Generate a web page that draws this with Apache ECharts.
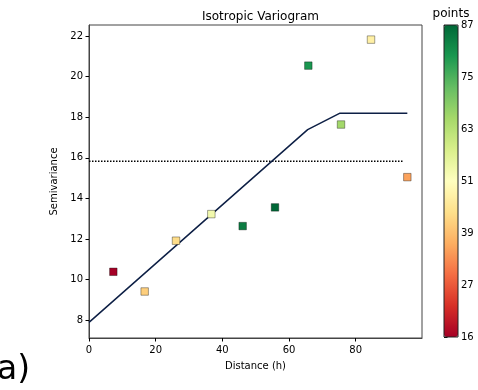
<!DOCTYPE html>
<html>
<head>
<meta charset="utf-8">
<script src="https://cdn.jsdelivr.net/npm/echarts@6/dist/echarts.min.js"></script>
<style>
  html, body { margin: 0; padding: 0; background: #fff; }
  #chart { width: 478px; height: 390px; }
</style>
</head>
<body>
<div id="chart"></div>
<script>
// Experimental semivariance per lag and the number of point pairs in each lag
const lagDistance = [7.3, 16.7, 26.1, 36.7, 46.1, 55.8, 65.8, 75.6, 84.6, 95.5];
const semivariance = [10.39, 9.42, 11.92, 13.23, 12.64, 13.56, 20.54, 17.64, 21.82, 15.05];
const pairCount = [16, 42, 44, 54, 84, 87, 80, 66, 48, 36];

// Fitted model (vertices) and sill
const modelDistance = [0, 65.6, 75.3, 95.5];
const modelValue = [7.9, 17.39, 18.2, 18.2];
const sillValue = 15.83;
const sillExtent = [0, 94.5];

// Axis ticks
const xTicks = [0, 20, 40, 60, 80];
const yTicks = [8, 10, 12, 14, 16, 18, 20, 22];
const countMin = 16, countMax = 87;
const countTicks = [0, 1, 2, 3, 4, 5, 6].map(k => countMin + k * (countMax - countMin) / 6);

// RdYlGn colour ramp, low to high
const rdYlGn = ['#a50026', '#d73027', '#f46d43', '#fdae61', '#fee08b', '#ffffbf',
                '#d9ef8b', '#a6d96a', '#66bd63', '#1a9850', '#006837'];

const FONT = 'DejaVu Sans';
const plot = { left: 89, top: 25, width: 333, height: 313 };
const bar = { left: 444, top: 25, width: 14, height: 312 };

const chart = echarts.init(document.getElementById('chart'));
chart.setOption({
  animation: false,
  backgroundColor: '#fff',
  textStyle: { fontFamily: FONT },
  title: {
    text: 'Isotropic Variogram',
    left: plot.left + plot.width / 2, top: 6, textAlign: 'center',
    textStyle: { fontFamily: FONT, fontSize: 12, fontWeight: 'normal', color: '#000' }
  },
  grid: [
    { left: plot.left, top: plot.top, width: plot.width, height: plot.height,
      show: true, borderColor: '#444', borderWidth: 1, backgroundColor: 'transparent' },
    { left: bar.left, top: bar.top, width: bar.width, height: bar.height,
      show: false }
  ],
  xAxis: [
    {
      gridIndex: 0, type: 'value', min: 0, max: 99.9,
      name: 'Distance (h)', nameLocation: 'middle', nameGap: 23,
      nameTextStyle: { fontFamily: FONT, fontSize: 10, color: '#000' },
      axisLine: { show: true, onZero: false, lineStyle: { color: '#444', width: 1 } },
      axisTick: { show: true, length: 3.5, customValues: xTicks, lineStyle: { color: '#000' } },
      axisLabel: { customValues: xTicks, margin: 7, fontFamily: FONT, fontSize: 10, color: '#000' },
      splitLine: { show: false }
    },
    { gridIndex: 1, type: 'value', min: 0, max: 1, show: false }
  ],
  yAxis: [
    {
      gridIndex: 0, type: 'value', min: 7.13, max: 22.54,
      name: 'Semivariance', nameLocation: 'middle', nameGap: 22, nameRotate: 90,
      nameTextStyle: { fontFamily: FONT, fontSize: 10, color: '#000' },
      axisLine: { show: true, onZero: false, lineStyle: { color: '#444', width: 1 } },
      axisTick: { show: true, length: 3.5, customValues: yTicks, lineStyle: { color: '#000' } },
      axisLabel: { customValues: yTicks, margin: 6, fontFamily: FONT, fontSize: 10, color: '#000' },
      splitLine: { show: false }
    },
    {
      gridIndex: 1, type: 'value', min: countMin, max: countMax, position: 'right',
      axisLine: { show: false },
      axisTick: { show: true, length: 3.5, customValues: countTicks, lineStyle: { color: '#000' } },
      axisLabel: { customValues: countTicks, margin: 3, fontFamily: FONT, fontSize: 10, color: '#000',
                   formatter: v => String(Math.floor(v + 1e-6)) },
      splitLine: { show: false }
    }
  ],
  visualMap: {
    type: 'continuous', min: countMin, max: countMax, dimension: 2, seriesIndex: 0,
    orient: 'vertical', left: bar.left, top: bar.top, padding: 0,
    itemWidth: bar.width, itemHeight: bar.height,
    calculable: false, hoverLink: false, text: null, showLabel: false,
    inRange: { color: rdYlGn },
    borderWidth: 0
  },
  graphic: [
    { type: 'rect', z: 100, silent: true,
      shape: { x: bar.left, y: bar.top, width: bar.width, height: bar.height },
      style: { fill: 'none', stroke: '#222', lineWidth: 1 } },
    { type: 'text', z: 100, silent: true, x: bar.left + bar.width / 2, y: 14,
      style: { text: 'points', fontFamily: FONT, fontSize: 12, fill: '#000',
               align: 'center', verticalAlign: 'middle' } },
    { type: 'text', left: -3, top: 354, silent: true,
      style: { text: 'a)', fontFamily: FONT, fontSize: 33, fill: '#000' } }
  ],
  series: [
    {
      type: 'scatter', xAxisIndex: 0, yAxisIndex: 0, z: 5,
      symbol: 'rect', symbolSize: 7.5,
      itemStyle: { opacity: 1, borderColor: 'rgba(0,0,0,0.4)', borderWidth: 0.9 },
      data: lagDistance.map((d, i) => [d, semivariance[i], pairCount[i]])
    },
    {
      type: 'line', xAxisIndex: 0, yAxisIndex: 0, z: 4,
      symbol: 'none', lineStyle: { color: '#0d1f45', width: 1.5 },
      data: modelDistance.map((d, i) => [d, modelValue[i]])
    },
    {
      type: 'line', xAxisIndex: 0, yAxisIndex: 0, z: 3,
      symbol: 'none', lineStyle: { color: '#000', width: 1.5, type: [1.5, 1.5] },
      data: sillExtent.map(d => [d, sillValue])
    }
  ]
});
</script>
</body>
</html>
